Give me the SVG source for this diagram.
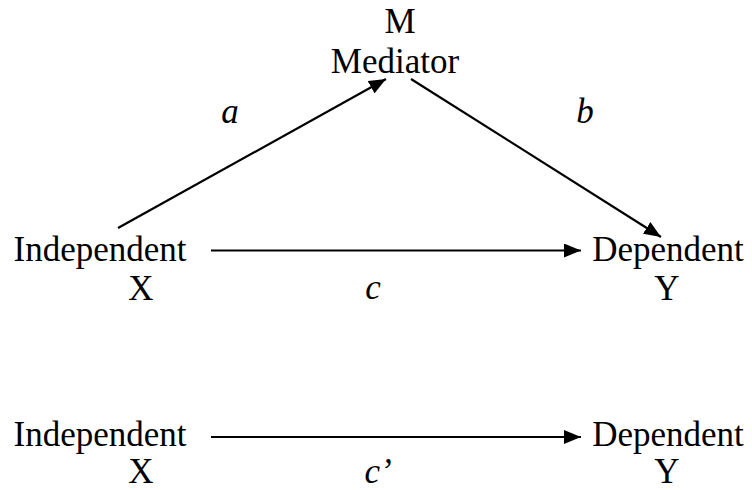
<svg xmlns="http://www.w3.org/2000/svg" width="752" height="490" viewBox="0 0 752 490">
<style>
.t{font-family:"Liberation Serif","Times New Roman",serif;font-size:35px;fill:#000;text-anchor:middle}
.i{font-style:italic}
.c{stroke:#000;stroke-width:2.2;fill:none}
</style>
<defs>
<marker id="ah" markerUnits="userSpaceOnUse" markerWidth="18" markerHeight="14" refX="17" refY="7" orient="auto">
<path d="M0,0 L17,7 L0,14 z" fill="#000"/>
</marker>
</defs>
<rect width="752" height="490" fill="#fff"/>
<g id="connectors">
<line class="c" x1="118" y1="228" x2="386" y2="79" marker-end="url(#ah)"/>
<line class="c" x1="411" y1="79" x2="661" y2="237" marker-end="url(#ah)"/>
<line class="c" x1="211" y1="250.5" x2="581" y2="250.5" marker-end="url(#ah)"/>
<line class="c" x1="211" y1="437" x2="581" y2="437" marker-end="url(#ah)"/>
</g>
<g id="labels">
<text class="t i" x="230" y="123">a</text>
<text class="t i" x="585" y="123">b</text>
<text class="t i" x="373" y="299">c</text>
<text class="t i" x="378" y="483">c’</text>
</g>
<g id="node-mediator">
<text class="t" x="400" y="33">M</text>
<text class="t" x="395" y="73">Mediator</text>
</g>
<g id="node-independent-1">
<text class="t" x="100" y="261">Independent</text>
<text class="t" x="141" y="300">X</text>
</g>
<g id="node-dependent-1">
<text class="t" x="668" y="261">Dependent</text>
<text class="t" x="667" y="300">Y</text>
</g>
<g id="node-independent-2">
<text class="t" x="100" y="446">Independent</text>
<text class="t" x="141" y="483">X</text>
</g>
<g id="node-dependent-2">
<text class="t" x="668" y="446">Dependent</text>
<text class="t" x="667" y="483">Y</text>
</g>
</svg>
